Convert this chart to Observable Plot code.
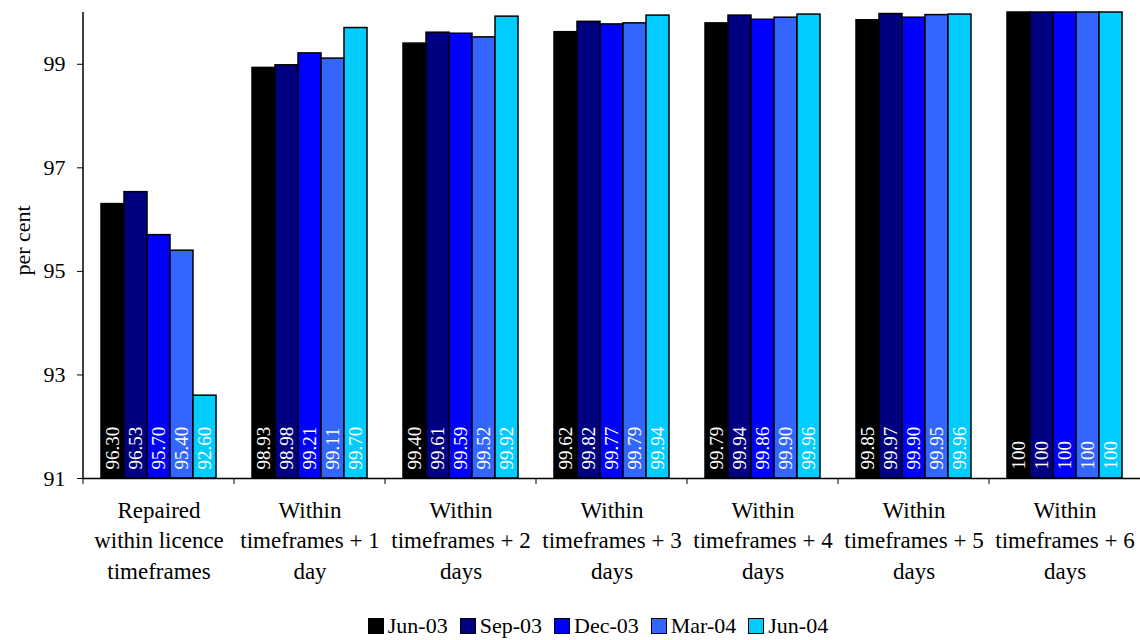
<!DOCTYPE html>
<html><head><meta charset="utf-8">
<script src="https://cdn.jsdelivr.net/npm/d3@7"></script>
<script src="https://cdn.jsdelivr.net/npm/@observablehq/plot@0.6"></script>
<style>
body{margin:0;background:#fff;font-family:"Liberation Serif",serif;}
#legend{display:flex;justify-content:center;align-items:center;height:28px;font-size:22px;padding-left:56px;color:#000;}
.item{display:flex;align-items:center;margin:0 6px;}
.sw{width:14px;height:14px;border:1.5px solid #000;margin-right:4px;}
</style></head><body>
<div id="chart"></div><div id="legend"></div>
<script>
const categories = ["Repaired within licence timeframes","Within timeframes + 1 day","Within timeframes + 2 days","Within timeframes + 3 days","Within timeframes + 4 days","Within timeframes + 5 days","Within timeframes + 6 days"];
const categoryLabels = ["Repaired\nwithin licence\ntimeframes","Within\ntimeframes + 1\nday","Within\ntimeframes + 2\ndays","Within\ntimeframes + 3\ndays","Within\ntimeframes + 4\ndays","Within\ntimeframes + 5\ndays","Within\ntimeframes + 6\ndays"];
const seriesNames = ["Jun-03","Sep-03","Dec-03","Mar-04","Jun-04"];
const jun03 = [96.30, 98.93, 99.40, 99.62, 99.79, 99.85, 100];
const sep03 = [96.53, 98.98, 99.61, 99.82, 99.94, 99.97, 100];
const dec03 = [95.70, 99.21, 99.59, 99.77, 99.86, 99.90, 100];
const mar04 = [95.40, 99.11, 99.52, 99.79, 99.90, 99.95, 100];
const jun04 = [92.60, 99.70, 99.92, 99.94, 99.96, 99.96, 100];
const yTicks = [91, 93, 95, 97, 99];
const colors = ["#000000","#000080","#0000FF","#3366FF","#00CCFF"];

const seriesValues = [jun03, sep03, dec03, mar04, jun04];
const data = [];
categories.forEach((c, i) => seriesNames.forEach((s, j) => {
  const v = seriesValues[j][i];
  data.push({category: c, series: s, value: v, label: v === 100 ? "100" : v.toFixed(2)});
}));
const labelMap = new Map(categories.map((c, i) => [c, categoryLabels[i]]));
const FONT = "Liberation Serif";

const plot = Plot.plot({
  width: 1140, height: 612,
  marginLeft: 82, marginRight: 0, marginTop: 12, marginBottom: 134,
  style: {fontFamily: FONT, fontSize: "21px", color: "#000", background: "#fff"},
  fx: {domain: categories, padding: 0},
  x: {domain: seriesNames, paddingInner: 0, paddingOuter: 0.7, axis: null},
  y: {domain: [91, 100]},
  color: {domain: seriesNames, range: colors},
  marks: [
    Plot.barY(data, {fx: "category", x: "series", y1: 91, y2: "value", fill: "series", stroke: "#000", strokeWidth: 1.5}),
    Plot.text(data, {fx: "category", x: "series", y: 91, text: "label", rotate: -90, textAnchor: "start", dy: -9, fill: "#fff", fontSize: 19, fontFamily: FONT}),
    Plot.ruleY([91], {stroke: "#000", strokeWidth: 1.5}),
    Plot.axisY({ticks: yTicks, tickSize: 6, tickPadding: 12, label: null, fontSize: 22, fontFamily: FONT}),
    Plot.text(["per cent"], {frameAnchor: "left", textAnchor: "middle", dx: -61, dy: -5, rotate: -90, fontSize: 22, fontFamily: FONT, fill: "#000", facetAnchor: "left"}),
    Plot.axisFx({anchor: "bottom", tickSize: 0, tickPadding: 18, tickFormat: c => labelMap.get(c), lineHeight: 1.32, fontSize: 23, fontFamily: FONT, label: null})
  ]
});

document.getElementById("chart").appendChild(plot);

// y-axis line and category boundary ticks, positioned from the plot's own scales
const fxS = plot.scale("fx"), yS = plot.scale("y");
const svg = d3.select(plot);
const y0 = yS.apply(91), yTop = yS.apply(100);
const x0 = fxS.apply(categories[0]);
svg.append("line").attr("x1", x0).attr("x2", x0).attr("y1", yTop).attr("y2", y0).attr("stroke", "#000").attr("stroke-width", 1.5);
const bounds = categories.map(c => fxS.apply(c));
svg.append("g").selectAll("line").data(bounds).join("line")
  .attr("x1", d => d).attr("x2", d => d).attr("y1", y0).attr("y2", y0 + 6)
  .attr("stroke", "#000").attr("stroke-width", 1);

const legend = document.getElementById("legend");
seriesNames.forEach((s, i) => {
  const it = document.createElement("div"); it.className = "item";
  const sw = document.createElement("div"); sw.className = "sw"; sw.style.background = colors[i];
  const t = document.createElement("span"); t.textContent = s;
  it.appendChild(sw); it.appendChild(t); legend.appendChild(it);
});
</script>
</body></html>
